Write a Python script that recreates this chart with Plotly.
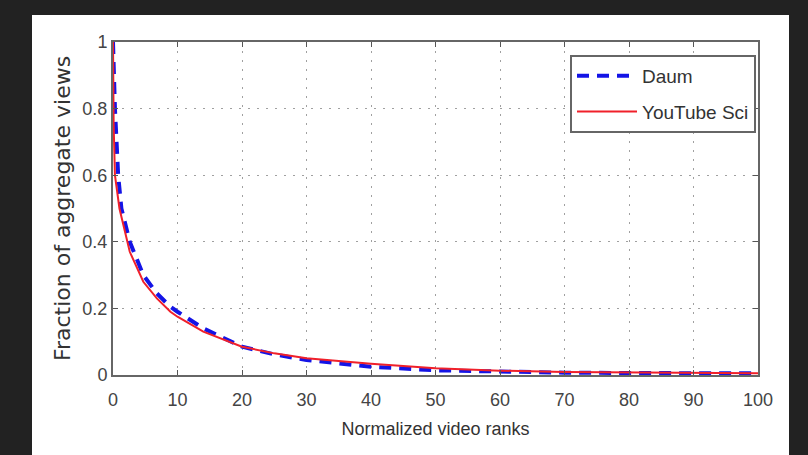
import plotly.graph_objects as go

# Data
daum_rank = [0, 0.3, 0.8, 1.3, 2.6, 4.7, 6.8, 8.9, 10, 14, 20, 25, 30, 37, 40, 50, 60, 70, 80, 90, 100]
daum_frac = [1.0, 0.8, 0.6, 0.5, 0.4, 0.3, 0.245, 0.205, 0.19, 0.14, 0.085, 0.062, 0.045, 0.03,
             0.025, 0.014, 0.009, 0.007, 0.006, 0.005, 0.005]
yt_rank = [0, 0.1, 0.3, 1, 2.6, 4.7, 6.8, 8.9, 10, 14, 20, 25, 30, 37, 40, 50, 60, 70, 80, 90, 100]
yt_frac = [1.0, 0.75, 0.6, 0.5, 0.37, 0.28, 0.23, 0.19, 0.175, 0.13, 0.085, 0.065, 0.05, 0.038,
           0.034, 0.02, 0.013, 0.009, 0.007, 0.006, 0.005]
x_ticks = [0, 10, 20, 30, 40, 50, 60, 70, 80, 90, 100]
y_ticks = [0, 0.2, 0.4, 0.6, 0.8, 1]
y_tick_labels = ["0", "0.2", "0.4", "0.6", "0.8", "1"]

FONT = "Liberation Sans, Arial, sans-serif"

fig = go.Figure()
fig.add_trace(go.Scatter(x=daum_rank, y=daum_frac, mode="lines", name="Daum", legendgroup="a",
                         line=dict(color="#1414e6", width=4, dash="12px,8px")))
fig.add_trace(go.Scatter(x=yt_rank, y=yt_frac, mode="lines", name="YouTube Sci", legendgroup="b",
                         line=dict(color="#f0202a", width=2)))

axis_common = dict(showline=True, mirror="ticks", linecolor="#666666", linewidth=2,
                   ticks="inside", ticklen=5, tickcolor="#555555",
                   showgrid=True, gridcolor="#a0a0a0", griddash="2px,7px", gridwidth=1,
                   zeroline=False, tickfont=dict(family=FONT, size=18, color="#444444"))

fig.update_xaxes(range=[0, 100], tickvals=x_ticks, ticklabelstandoff=7, **axis_common,
                 title=dict(text="Normalized video ranks", standoff=14,
                            font=dict(family=FONT, size=18, color="#333333")))
fig.update_yaxes(range=[0, 1], tickvals=y_ticks, ticktext=y_tick_labels, **axis_common,
                 title=dict(text="Fraction of aggregate views", standoff=6,
                            font=dict(family="DejaVu Sans, sans-serif", size=22, color="#333333")))

# white panel on dark page background
W, H = 808, 455
L, R, T, B = 113, 50, 42, 80
pw, ph = W - L - R, H - T - B
def px_x(p):
    return (p - L) / pw
def px_y(p):
    return (H - B - p) / ph
fig.add_shape(type="rect", xref="paper", yref="paper",
              x0=px_x(32), x1=px_x(789), y0=px_y(455), y1=px_y(15),
              fillcolor="white", line=dict(width=0), layer="below")

fig.update_layout(
    width=W, height=H,
    margin=dict(l=L, r=R, t=T, b=B),
    paper_bgcolor="#222222", plot_bgcolor="white",
    showlegend=True,
    legend=dict(x=px_x(570), y=px_y(55), xanchor="left", yanchor="top",
                bgcolor="white", bordercolor="#666666", borderwidth=2,
                font=dict(family=FONT, size=19, color="#333333"),
                itemwidth=60, tracegroupgap=8),
)

fig.write_html("out.html")
